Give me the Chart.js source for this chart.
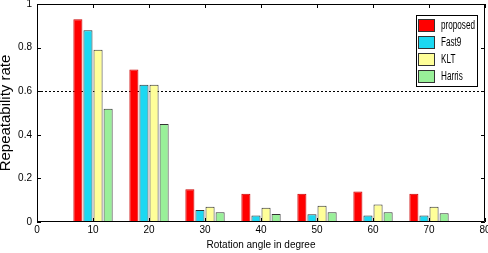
<!DOCTYPE html>
<html>
<head>
<meta charset="utf-8">
<script src="https://cdn.jsdelivr.net/npm/chart.js@4"></script>
<style>
  html, body { margin: 0; padding: 0; background: #fff; }
  #wrap { width: 488px; height: 253px; }
</style>
</head>
<body>
<div id="wrap"><canvas id="chartCanvas" width="488" height="253"></canvas></div>
<script>
// tick labels along the x axis (0 and 80 carry no bars)
const angles = ['0', '10', '20', '30', '40', '50', '60', '70', '80'];
const yTicks = [0, 0.2, 0.4, 0.6, 0.8, 1];

const proposed = [null, 0.93, 0.70, 0.15, 0.13, 0.13, 0.14, 0.13, null];
const fast9    = [null, 0.88, 0.63, 0.055, 0.03, 0.035, 0.03, 0.03, null];
const klt      = [null, 0.79, 0.63, 0.07, 0.065, 0.075, 0.08, 0.07, null];
const harris   = [null, 0.52, 0.45, 0.045, 0.037, 0.045, 0.045, 0.04, null];

const seriesNames = ['proposed', 'Fast9', 'KLT', 'Harris'];
const seriesColors = ['#ff0000', '#1cd8f2', '#ffff99', '#99f099'];

const sans = "'Liberation Sans', Arial, sans-serif";

// matlab style frame: box, inward ticks, legend inside the axes
const framePlugin = {
  id: 'frame',
  afterDatasetsDraw(chart) {
    const { ctx, chartArea: a, scales } = chart;
    ctx.save();
    ctx.strokeStyle = '#000';
    ctx.lineWidth = 1;
    ctx.beginPath();
    ctx.rect(a.left + 0.5, a.top + 0.5, a.right - a.left - 1, a.bottom - a.top - 1);
    ctx.stroke();

    ctx.beginPath();
    yTicks.forEach(v => {
      const y = Math.round(scales.y.getPixelForValue(v)) + 0.5;
      ctx.moveTo(a.left, y); ctx.lineTo(a.left + 4, y);
      ctx.moveTo(a.right, y); ctx.lineTo(a.right - 4, y);
    });
    angles.forEach((_, i) => {
      const x = Math.round(scales.x.getPixelForValue(i)) + 0.5;
      ctx.moveTo(x, a.bottom); ctx.lineTo(x, a.bottom - 4);
      ctx.moveTo(x, a.top); ctx.lineTo(x, a.top + 4);
    });
    ctx.stroke();

    // legend
    const bx = 416, by = 15, bw = 61, bh = 71;
    ctx.fillStyle = '#fff';
    ctx.fillRect(bx, by, bw, bh);
    ctx.strokeRect(bx + 0.5, by + 0.5, bw, bh);
    ctx.textBaseline = 'middle';
    chart.data.datasets.forEach((ds, i) => {
      const y = by + 4 + i * 17;
      ctx.fillStyle = ds.backgroundColor;
      ctx.fillRect(bx + 2, y, 16, 12);
      ctx.strokeStyle = '#333';
      ctx.strokeRect(bx + 2.5, y + 0.5, 16, 12);
      ctx.save();
      ctx.translate(bx + 25, y + 7);
      ctx.scale(0.68, 1);
      ctx.font = '12px ' + sans;
      ctx.fillStyle = '#000';
      ctx.fillText(ds.label, 0, 0);
      ctx.restore();
    });
    ctx.restore();
  }
};

const datasets = [proposed, fast9, klt, harris].map((d, i) => ({
  label: seriesNames[i],
  data: d,
  backgroundColor: seriesColors[i],
  borderColor: i === 0 ? '#cc0000' : '#333',
  borderWidth: 1,
  categoryPercentage: 0.72,
  barPercentage: 0.9
}));

new Chart(document.getElementById('chartCanvas').getContext('2d'), {
  type: 'bar',
  data: { labels: angles, datasets },
  options: {
    responsive: false,
    animation: false,
    layout: { padding: { top: 4, right: 3, left: 0, bottom: 0 } },
    plugins: { legend: { display: false }, tooltip: { enabled: false } },
    scales: {
      x: {
        offset: false,
        grid: { display: false, drawTicks: false, offset: false },
        border: { display: false },
        ticks: { color: '#000', font: { family: sans, size: 10 }, padding: 2, maxRotation: 0, autoSkip: false },
        title: { display: true, text: 'Rotation angle in degree', color: '#000', font: { family: sans, size: 10 }, padding: { top: 0, bottom: 2 } },
        afterFit(scale) {
          scale.height = 31;
          scale.paddingLeft = 0;
          scale.paddingRight = 0;
        }
      },
      y: {
        min: 0,
        max: 1,
        afterBuildTicks(scale) { scale.ticks = yTicks.map(v => ({ value: v })); },
        grid: {
          drawTicks: false,
          color: c => (c.tick && Math.abs(c.tick.value - 0.6) < 1e-6) ? '#000' : 'rgba(0,0,0,0)'
        },
        border: { display: false, dash: [2, 2] },
        ticks: {
          color: '#000',
          padding: 5,
          font: { family: sans, size: 10 },
          callback: v => String(Math.round(v * 10) / 10)
        },
        title: { display: true, text: 'Repeatability rate', color: '#000', font: { family: sans, size: 15 }, padding: { top: -3, bottom: 0 } },
        afterFit(scale) {
          scale.width = 37;
          scale.paddingTop = 0;
          scale.paddingBottom = 0;
        }
      }
    }
  },
  plugins: [framePlugin]
});
</script>
</body>
</html>
